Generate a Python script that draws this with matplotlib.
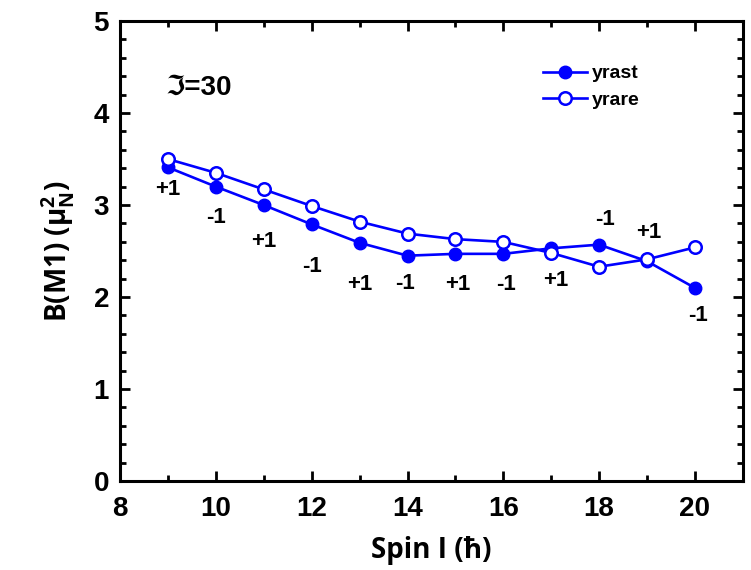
import matplotlib
matplotlib.use("Agg")
import matplotlib.pyplot as plt
from matplotlib.ticker import MultipleLocator

plt.rcParams['font.family'] = ['Liberation Sans', 'DejaVu Sans']
plt.rcParams['font.weight'] = 'bold'
plt.rcParams['mathtext.fontset'] = 'custom'
plt.rcParams['mathtext.bf'] = 'Open Sans:bold'
plt.rcParams['mathtext.rm'] = 'Open Sans:bold'
plt.rcParams['mathtext.default'] = 'bf'

# B(M1) values along the yrast and yrare bands
spin = [9, 10, 11, 12, 13, 14, 15, 16, 17, 18, 19, 20]
yrast = [3.41, 3.20, 3.00, 2.79, 2.59, 2.45, 2.47, 2.47, 2.53, 2.57, 2.39, 2.10]
yrare = [3.50, 3.35, 3.17, 2.99, 2.82, 2.69, 2.63, 2.60, 2.48, 2.33, 2.41, 2.54]
signature = ['+1', '-1', '+1', '-1', '+1', '-1', '+1', '-1', '+1', '-1', '+1', '-1']

# label offsets (points) relative to the yrast markers
dx = [0, 0, 0, 0, 0, -2, 2, 2, 3, 4, 1, 2]
dy = [-16, -22, -26, -30, -30, -20, -22, -22, -23, 18, 21, -20]

blue = '#0000ff'

fig = plt.figure(figsize=(7.51, 5.70), dpi=100)
ax = fig.add_axes([0.160, 0.156, 0.829, 0.807])

ax.plot(spin, yrast, '-o', color=blue, lw=1.9, ms=9,
        mfc=blue, mec=blue, label='yrast', zorder=3)
ax.plot(spin, yrare, '-o', color=blue, lw=1.9, ms=9,
        mfc='white', mec=blue, mew=1.8, label='yrare', zorder=3)

for x, y, s, ox, oy in zip(spin, yrast, signature, dx, dy):
    ax.annotate(s, (x, y), xytext=(ox, oy), textcoords='offset points',
                ha='center', va='center', fontsize=16, fontweight='bold')

ax.text(8.95, 4.28, 'ℑ=30', fontsize=20, fontweight='bold', va='center')

ax.set_xlim(8, 21)
ax.set_ylim(0, 5)
ax.xaxis.set_major_locator(MultipleLocator(2))
ax.xaxis.set_minor_locator(MultipleLocator(1))
ax.yaxis.set_major_locator(MultipleLocator(1))
ax.yaxis.set_minor_locator(MultipleLocator(0.2))

ax.tick_params(which='both', direction='in', top=True, right=True, width=2)
ax.tick_params(which='major', length=7.5, labelsize=20)
ax.tick_params(which='minor', length=4.5)
ax.tick_params(axis='x', which='major', pad=11)
ax.tick_params(axis='y', which='major', pad=8)
for lab in ax.get_xticklabels() + ax.get_yticklabels():
    lab.set_fontweight('bold')
for sp in ax.spines.values():
    sp.set_linewidth(2.2)

ax.set_xlabel('Spin I (ħ)', fontsize=20, fontweight='bold',
              family='Open Sans', labelpad=10)
ax.set_ylabel(r'B(M1) ($\mu_N^2$)', fontsize=20, fontweight='bold',
              family='Open Sans', labelpad=12)

ax.legend(loc='upper left', bbox_to_anchor=(0.651, 0.943), frameon=False,
          handlelength=2.27, handletextpad=0.26, labelspacing=0.45,
          prop={'weight': 'bold', 'size': 14})

fig.savefig('out.png', dpi=100)
